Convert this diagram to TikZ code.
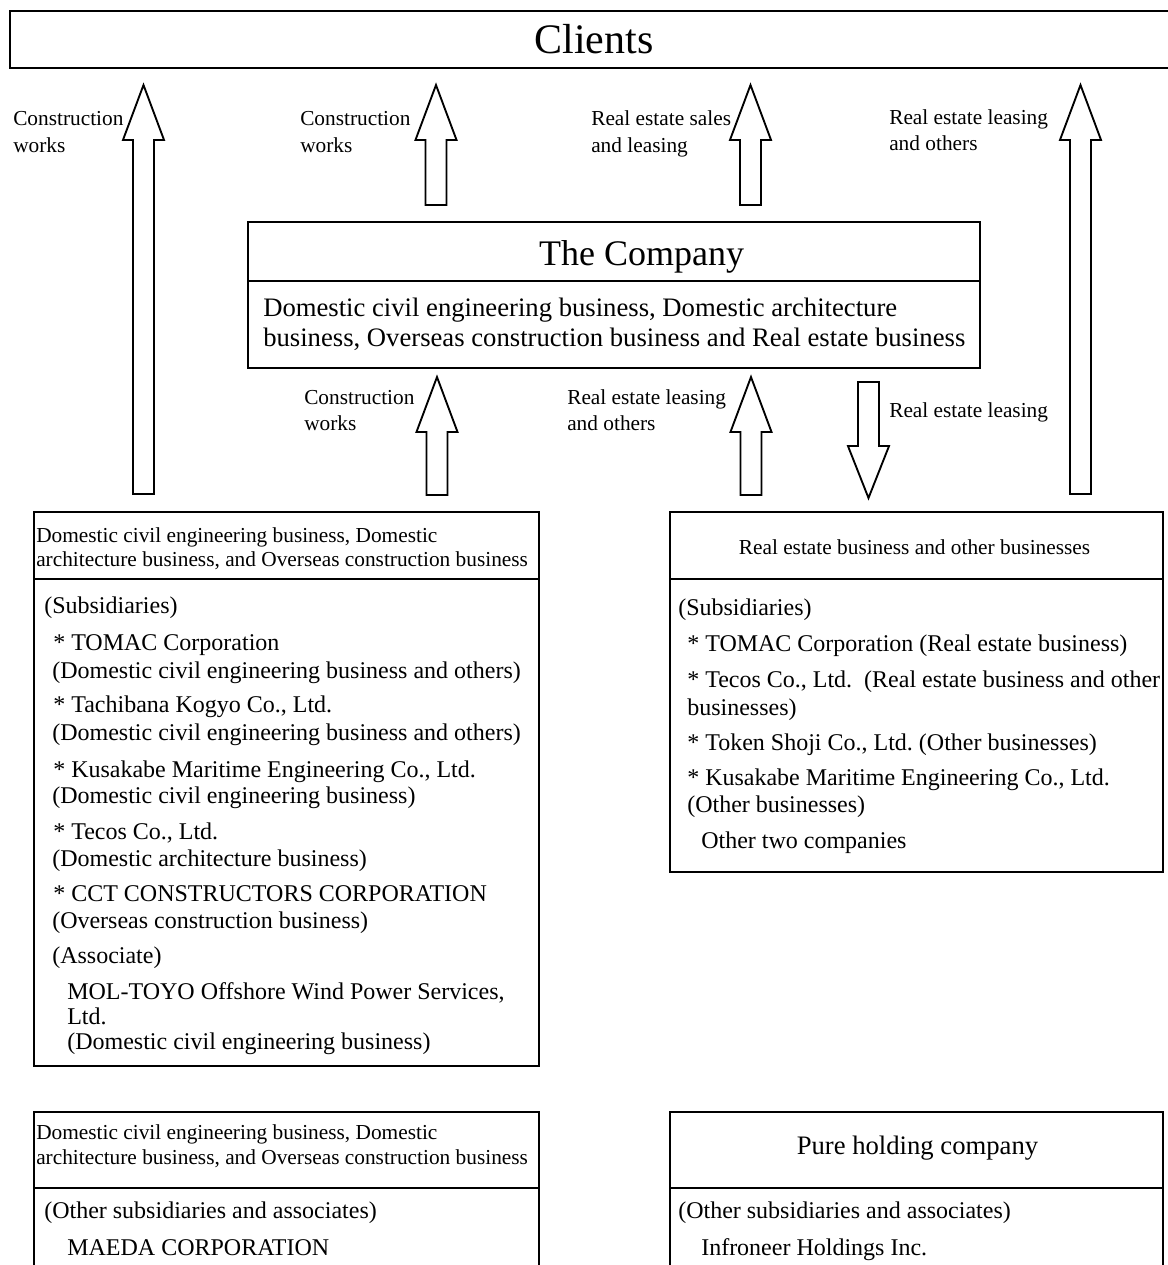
\documentclass[tikz,border=0pt]{standalone}
\usepackage{fontspec}
\setmainfont{Liberation Serif}
\usetikzlibrary{fit,calc}
\frenchspacing
\newcommand\fatup[2]{\draw[fat] let \p1=(#1), \p2=(#2) in
  (\x1-7.9pt,\y1) -- (\x1-7.9pt,\y2-41.25pt) -- (\x1-15.4pt,\y2-41.25pt) -- (\x2,\y2)
  -- (\x1+15.4pt,\y2-41.25pt) -- (\x1+7.9pt,\y2-41.25pt) -- (\x1+7.9pt,\y1) -- cycle;}
\newcommand\fatdown[2]{\draw[fat] let \p1=(#1), \p2=(#2) in
  (\x1-7.9pt,\y1) -- (\x1-7.9pt,\y2+39pt) -- (\x1-15.4pt,\y2+39pt) -- (\x2,\y2)
  -- (\x1+15.4pt,\y2+39pt) -- (\x1+7.9pt,\y2+39pt) -- (\x1+7.9pt,\y1) -- cycle;}
\begin{document}
\begin{tikzpicture}[x=0.75pt,y=-0.75pt,
  box/.style={draw, line width=1.5pt, inner sep=0pt},
  divl/.style={line width=1.5pt},
  fat/.style={draw, line width=1.4pt, fill=white, line join=miter},
  tx/.style={anchor=base west, inner sep=0pt},
  lab/.style={tx, font=\fontsize{16}{16}\selectfont},
  body/.style={tx, font=\fontsize{18}{18}\selectfont},
  cbody/.style={tx, font=\fontsize{20}{20}\selectfont}]
\useasboundingbox (0,0) rectangle (1168,1265);
\clip (0,0) rectangle (1168,1265);

% ---- boxes ----
\node[box, fit={(10,11)(1190,68)}] (clients) {};
\node[box, fit={(248,222)(980,368)}] (comp) {};
\draw[divl] (248,281) -- (980,281);
\node[box, fit={(34,512)(539,1066)}] (lbox) {};
\draw[divl] (34,579) -- (539,579);
\node[box, fit={(670,512)(1163,872)}] (rbox) {};
\draw[divl] (670,579) -- (1163,579);
\node[box, fit={(34,1112)(539,1290)}] (lbox2) {};
\draw[divl] (34,1188) -- (539,1188);
\node[box, fit={(670,1112)(1163,1290)}] (rbox2) {};
\draw[divl] (670,1188) -- (1163,1188);

% ---- arrow end points ----
\coordinate (a1s) at (143.5,494);  \coordinate (a1e) at (143.5,85);
\coordinate (a2s) at (436,205);    \coordinate (a2e) at (436,85);
\coordinate (a3s) at (750.5,205);  \coordinate (a3e) at (750.5,85);
\coordinate (a4s) at (1080.5,494); \coordinate (a4e) at (1080.5,85);
\coordinate (b1s) at (437,495);    \coordinate (b1e) at (437,377);
\coordinate (b2s) at (751,495);    \coordinate (b2e) at (751,377);
\coordinate (c1s) at (868.5,382);  \coordinate (c1e) at (868.5,498);
\fatup{a1s}{a1e}
\fatup{a2s}{a2e}
\fatup{a3s}{a3e}
\fatup{a4s}{a4e}
\fatup{b1s}{b1e}
\fatup{b2s}{b2e}
\fatdown{c1s}{c1e}

% ---- titles ----
\node[anchor=base, inner sep=0pt, font=\fontsize{31.5}{31.5}\selectfont] (tclients) at (594,53) {Clients};
\node[anchor=base, inner sep=0pt, font=\fontsize{27}{27}\selectfont] (tcomp) at (641.5,265) {The Company};
\node[cbody] (c1) at (263,316) {Domestic civil engineering business, Domestic architecture};
\node[cbody] (c2) at (263,346) {business, Overseas construction business and Real estate business};

% ---- arrow labels ----
\node[lab] (l1a) at (13,125) {Construction};
\node[lab] (l1b) at (13,152) {works};
\node[lab] (l2a) at (300,125) {Construction};
\node[lab] (l2b) at (300,152) {works};
\node[lab] (l3a) at (591,125) {Real estate sales};
\node[lab] (l3b) at (591,152) {and leasing};
\node[lab] (l4a) at (889,124) {Real estate leasing};
\node[lab] (l4b) at (889,150) {and others};
\node[lab] (l5a) at (304,404) {Construction};
\node[lab] (l5b) at (304,430) {works};
\node[lab] (l6a) at (567,404) {Real estate leasing};
\node[lab] (l6b) at (567,430) {and others};
\node[lab] (l7) at (889,417) {Real estate leasing};

% ---- left box ----
\node[lab] (lh1) at (36,542) {Domestic civil engineering business, Domestic};
\node[lab] (lh2) at (36,566) {architecture business, and Overseas construction business};
\node[body] (lb1) at (44,613) {(Subsidiaries)};
\node[body] (lb2) at (53,650) {* TOMAC Corporation};
\node[body] (lb3) at (52,678) {(Domestic civil engineering business and others)};
\node[body] (lb4) at (53,712) {* Tachibana Kogyo Co., Ltd.};
\node[body] (lb5) at (52,740) {(Domestic civil engineering business and others)};
\node[body] (lb6) at (53,777) {* Kusakabe Maritime Engineering Co., Ltd.};
\node[body] (lb7) at (52,803) {(Domestic civil engineering business)};
\node[body] (lb8) at (53,839) {* Tecos Co., Ltd.};
\node[body] (lb9) at (52,866) {(Domestic architecture business)};
\node[body] (lb10) at (53,901) {* CCT CONSTRUCTORS CORPORATION};
\node[body] (lb11) at (52,928) {(Overseas construction business)};
\node[body] (lb12) at (52,963) {(Associate)};
\node[body] (lb13) at (67,999) {MOL-TOYO Offshore Wind Power Services,};
\node[body] (lb14) at (67,1024) {Ltd.};
\node[body] (lb15) at (67,1049) {(Domestic civil engineering business)};

% ---- right box ----
\node[anchor=base, inner sep=0pt, font=\fontsize{16}{16}\selectfont] (rh) at (914.5,554) {Real estate business and other businesses};
\node[body] (rb1) at (678,615) {(Subsidiaries)};
\node[body] (rb2) at (687,651) {* TOMAC Corporation (Real estate business)};
\node[body] (rb3) at (687,687) {* Tecos Co., Ltd.~~(Real estate business and other};
\node[body] (rb4) at (687,715) {businesses)};
\node[body] (rb5) at (687,750) {* Token Shoji Co., Ltd. (Other businesses)};
\node[body] (rb6) at (687,785) {* Kusakabe Maritime Engineering Co., Ltd.};
\node[body] (rb7) at (687,812) {(Other businesses)};
\node[body] (rb8) at (701,848) {Other two companies};

% ---- bottom boxes ----
\node[lab] (bh1) at (36,1139) {Domestic civil engineering business, Domestic};
\node[lab] (bh2) at (36,1164) {architecture business, and Overseas construction business};
\node[body] (bb1) at (44,1218) {(Other subsidiaries and associates)};
\node[body] (bb2) at (67,1255) {MAEDA CORPORATION};
\node[anchor=base, inner sep=0pt, font=\fontsize{20}{20}\selectfont] (ph) at (917.5,1154) {Pure holding company};
\node[body] (pb1) at (678,1218) {(Other subsidiaries and associates)};
\node[body] (pb2) at (701,1255) {Infroneer Holdings Inc.};
\end{tikzpicture}
\end{document}
